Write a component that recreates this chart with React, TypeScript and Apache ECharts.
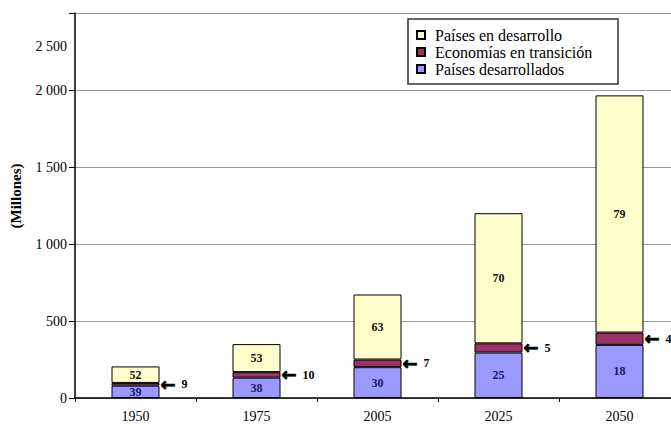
import React, { useEffect, useRef } from "react";
import * as echarts from "echarts";

const categories = ["1950", "1975", "2005", "2025", "2050"];
// Millions of people
const developed = [80, 132, 200, 295, 345];
const transition = [18, 36, 50, 60, 80];
const developing = [107, 182, 422, 845, 1540];
// Percent labels shown on the bars
const developedPct = [39, 38, 30, 25, 18];
const transitionPct = [9, 10, 7, 5, 4];
const developingPct = [52, 53, 63, 70, 79];
const yTickLabels = ["0", "500", "1 000", "1 500", "2 000", "2 500"];
const seriesNames = ["Países desarrollados", "Economías en transición", "Países en desarrollo"];

const SERIF = "'Liberation Serif', 'Times New Roman', serif";

export default function App() {
  const ref = useRef<HTMLDivElement>(null);
  useEffect(() => {
    if (!ref.current) return;
    const chart = echarts.init(ref.current, undefined, { renderer: "svg" });
    const border = { borderColor: "#000", borderWidth: 1 };
    chart.setOption({
      animation: false,
      backgroundColor: "#fff",
      textStyle: { fontFamily: SERIF },
      grid: {
        left: 75,
        top: 13,
        width: 605,
        height: 385,
        containLabel: false,
        outerBoundsMode: "none",
      },
      legend: {
        orient: "vertical",
        left: 411,
        top: 22,
        itemWidth: 8,
        itemHeight: 8,
        itemGap: 1,
        icon: "rect",
        data: [seriesNames[2], seriesNames[1], seriesNames[0]],
        textStyle: { fontFamily: SERIF, fontSize: 16, color: "#000", padding: [0, 0, 0, 5] },
        z: 10,
      },
      graphic: [
        {
          type: "rect",
          z: 1,
          shape: { x: 408, y: 19, width: 210, height: 65 },
          style: { fill: "#fff", stroke: "#333", lineWidth: 1.5 },
        },
        {
          type: "text",
          x: 16,
          y: 196,
          rotation: Math.PI / 2,
          style: {
            text: "(Millones)",
            fontFamily: SERIF,
            fontWeight: "bold",
            fontSize: 15,
            fill: "#000",
            align: "center",
            verticalAlign: "middle",
          },
        },
        {
          type: "text",
          x: 67,
          y: 46,
          style: {
            text: yTickLabels[5],
            fontFamily: SERIF,
            fontSize: 14,
            fill: "#000",
            align: "right",
            verticalAlign: "middle",
          },
        },
      ],
      xAxis: {
        type: "category",
        data: categories,
        boundaryGap: true,
        axisLine: { lineStyle: { color: "#000", width: 1.5 } },
        axisTick: { show: true, length: 4, lineStyle: { color: "#000" } },
        axisLabel: { fontFamily: SERIF, fontSize: 14, color: "#000", margin: 11 },
      },
      yAxis: {
        type: "value",
        min: 0,
        max: 2500,
        interval: 500,
        axisLine: { show: true, lineStyle: { color: "#000", width: 1.5 } },
        axisTick: { show: true, length: 6, lineStyle: { color: "#000" } },
        splitLine: { show: true, lineStyle: { color: "#999", width: 1 } },
        axisLabel: {
          fontFamily: SERIF,
          fontSize: 14,
          color: "#000",
          margin: 8,
          formatter: (v: number) => (v === 2500 ? "" : yTickLabels[Math.round(v / 500)]),
        },
      },
      series: [
        {
          name: seriesNames[0],
          type: "bar",
          stack: "total",
          barWidth: 48,
          data: developed,
          itemStyle: { color: "#9999FF", ...border },
          label: {
            show: true,
            position: "inside",
            fontFamily: SERIF,
            fontWeight: "bold",
            fontSize: 12,
            color: "#1a1a66",
            formatter: (p: any) => String(developedPct[p.dataIndex]),
          },
        },
        {
          name: seriesNames[1],
          type: "bar",
          stack: "total",
          barWidth: 48,
          data: transition,
          itemStyle: { color: "#993366", ...border },
          label: {
            show: true,
            position: "right",
            distance: 1,
            formatter: (p: any) => `{a|←}{n|  ${transitionPct[p.dataIndex]}}`,
            rich: {
              a: {
                fontFamily: "'DejaVu Sans'",
                fontWeight: "bold",
                fontSize: 18,
                color: "#000",
                textBorderColor: "#000",
                textBorderWidth: 0.8,
              },
              n: { fontFamily: SERIF, fontWeight: "bold", fontSize: 12, color: "#000" },
            },
          },
        },
        {
          name: seriesNames[2],
          type: "bar",
          stack: "total",
          barWidth: 48,
          data: developing,
          itemStyle: { color: "#FFFFCC", ...border },
          label: {
            show: true,
            position: "inside",
            fontFamily: SERIF,
            fontWeight: "bold",
            fontSize: 12,
            color: "#111",
            formatter: (p: any) => String(developingPct[p.dataIndex]),
          },
        },
      ],
    });
    return () => chart.dispose();
  }, []);
  return (
    <div
      ref={ref}
      style={{ position: "fixed", left: 0, top: 0, width: 671, height: 425, background: "#fff" }}
    />
  );
}
